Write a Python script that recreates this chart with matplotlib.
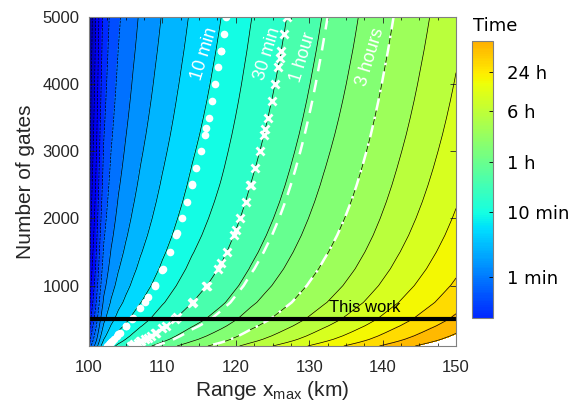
import numpy as np
import matplotlib
matplotlib.use('Agg')
import matplotlib.pyplot as plt
from matplotlib.colors import Normalize, ListedColormap
from matplotlib.cm import ScalarMappable

plt.rcParams['font.family'] = 'Liberation Sans'
plt.rcParams['mathtext.fontset'] = 'custom'
plt.rcParams['mathtext.rm'] = 'Liberation Sans'
plt.rcParams['mathtext.it'] = 'Liberation Sans:italic'

# range axis (km) and log10(time / min) read along the top row (5000 gates)
range_km = [100.0, 100.25, 100.5, 101, 101.5, 102, 103, 104, 105, 106, 107, 108, 109, 110,
            112, 114, 116, 118, 120, 122, 124, 126, 128, 130, 132, 134, 136, 138, 140,
            142, 144, 146, 148, 150]
log_min_5000 = [-1.75, -1.49, -1.348, -1.065, -0.759, -0.52, -0.278, -0.115, 0.005, 0.112,
                0.210, 0.292, 0.374, 0.454, 0.596, 0.730, 0.844, 0.958, 1.083, 1.207,
                1.318, 1.426, 1.535, 1.644, 1.752, 1.855, 1.959, 2.066, 2.175, 2.283,
                2.388, 2.493, 2.598, 2.703]

# number of gates and how much log10(time) rises compared with the 5000 row
gates = [100, 125, 150, 175, 200, 250, 300, 400, 500, 750, 1000, 1250, 1500, 1750, 2000,
         2250, 2500, 2750, 3000, 3250, 3500, 3750, 4000, 4250, 4500, 4750, 5000]
gate_offset = [1.400, 1.350, 1.300, 1.255, 1.215, 1.150, 1.095, 0.990, 0.900, 0.741, 0.629,
               0.542, 0.471, 0.410, 0.358, 0.312, 0.271, 0.234, 0.200, 0.168, 0.139, 0.112,
               0.087, 0.064, 0.041, 0.020, 0.0]

this_work_gates = 500
cbar_ticks = [0, 1, 1.778, 2.556, 3.158]
cbar_labels = ['1 min', '10 min', '1 h', '6 h', '24 h']

Z = np.add.outer(np.array(gate_offset), np.array(log_min_5000))

# contour levels: 30 min times powers of 6^(1/3)
levels = np.log10(30) + np.arange(-20, 10) * np.log10(6) / 3
jet = plt.get_cmap('jet')
norm = Normalize(-1.86, 5.73)
fill_colors = [jet(norm(lv)) for lv in levels[:-1]]

fig = plt.figure(figsize=(5.83, 4.08), dpi=100)
ax = fig.add_axes([0.1527, 0.152, 0.6295, 0.806])

cf = ax.contourf(range_km, gates, Z, levels=levels, colors=fill_colors)
cf.set_edgecolor('face')
cf.set_linewidth(0.4)
ax.contour(range_km, gates, Z, levels=levels, colors='k', linewidths=0.5)

# 10 min: white dots on the contour vertices
cs = ax.contour(range_km, gates, Z, levels=[1.0], linewidths=0)
for p in cs.get_paths():
    v = p.vertices
    ax.plot(v[:, 0], v[:, 1], 'o', color='white', ms=5.5, mec='none')
# 30 min: white crosses
cs = ax.contour(range_km, gates, Z, levels=[np.log10(30)], linewidths=0)
for p in cs.get_paths():
    v = p.vertices
    ax.plot(v[:, 0], v[:, 1], 'x', color='white', ms=6, mew=2)
# 1 hour dashed, 3 hours dash-dot
ax.contour(range_km, gates, Z, levels=[np.log10(60)], colors='white', linewidths=1.8,
           linestyles=[(0, (5, 3.5))])
ax.contour(range_km, gates, Z, levels=[np.log10(180)], colors='white', linewidths=1.8,
           linestyles=[(0, (5, 2.5, 1, 2.5))])

ax.axhline(this_work_gates, color='k', lw=3)
ax.text(137.6, 560, 'This work', fontsize=12, ha='center', va='bottom')

lab = dict(color='white', fontsize=13, rotation=73, ha='center', va='center')
ax.text(115.8, 4450, '10 min', **lab)
ax.text(124.3, 4450, '30 min', **lab)
ax.text(129.2, 4400, '1 hour', **lab)
ax.text(138.3, 4400, '3 hours', **lab)

ax.set_xlim(100, 150)
ax.set_ylim(100, 5000)
ax.set_xticks(range(100, 151, 10))
ax.set_xticks(np.arange(100, 150.1, 2.5), minor=True)
ax.set_yticks(range(1000, 5001, 1000))
ax.tick_params(direction='in', top=True, right=True, labelsize=12, colors='#262626',
               length=4, width=0.6)
ax.tick_params(axis='x', pad=10)
ax.tick_params(axis='y', pad=7)
ax.tick_params(which='minor', direction='in', top=True, right=True, length=2, width=0.5)
for s in ax.spines.values():
    s.set_color('#808080')
    s.set_linewidth(0.8)
ax.set_xlabel(r'Range x$_{\mathrm{max}}$ (km)', fontsize=15, color='#262626', labelpad=3)
ax.set_ylabel('Number of gates', fontsize=15, color='#262626', labelpad=5)

cax = fig.add_axes([0.809, 0.220, 0.037, 0.680])
bar_cmap = ListedColormap(jet(np.linspace(norm(-0.63), norm(3.64), 256)))
sm = ScalarMappable(norm=Normalize(-0.63, 3.64), cmap=bar_cmap)
cbar = fig.colorbar(sm, cax=cax)
cbar.set_ticks(cbar_ticks)
cbar.set_ticklabels(cbar_labels)
cbar.ax.tick_params(direction='in', length=3, width=0.6, labelsize=13, pad=10)
for t in cbar.ax.get_yticklabels():
    t.set_fontfamily('DejaVu Sans')
cbar.outline.set_edgecolor('#808080')
fig.text(473 / 583, 1 - 31 / 408, 'Time', fontsize=13, family='DejaVu Sans',
         va='baseline', ha='left')

fig.savefig('out.png', dpi=100)
